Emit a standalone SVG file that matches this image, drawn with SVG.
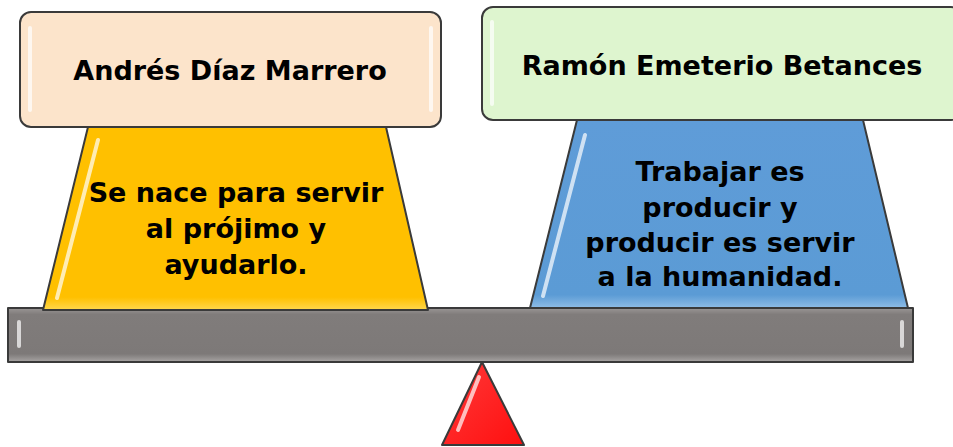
<svg xmlns="http://www.w3.org/2000/svg" width="953" height="447" viewBox="0 0 953 447">
<defs>
<style>
.edge{stroke:#3a3a3a;stroke-width:2;stroke-linejoin:round}
.t{font-family:"DejaVu Sans","Liberation Sans",sans-serif;font-weight:bold;fill:#000;text-anchor:middle}
.title{font-size:27px}
.body{font-size:27px}
.hl{fill:none;stroke:#fff;stroke-opacity:0.7;stroke-width:4;stroke-linecap:round}
</style>
<linearGradient id="gBeam" x1="0" y1="0" x2="0" y2="1">
<stop offset="0" stop-color="#9a9695"/><stop offset="0.12" stop-color="#807c7b"/><stop offset="0.85" stop-color="#7d7978"/><stop offset="1" stop-color="#a8a5a4"/>
</linearGradient>
<linearGradient id="gYel" x1="0" y1="0" x2="0" y2="1">
<stop offset="0" stop-color="#ffc000"/><stop offset="0.93" stop-color="#ffc000"/><stop offset="1" stop-color="#ffd84d"/>
</linearGradient>
<linearGradient id="gBlue" x1="0" y1="0" x2="0" y2="1">
<stop offset="0" stop-color="#5f9cd8"/><stop offset="0.93" stop-color="#5b9bd5"/><stop offset="1" stop-color="#8fbde6"/>
</linearGradient>
<linearGradient id="gRed" x1="0" y1="0" x2="1" y2="1">
<stop offset="0" stop-color="#ff3a3a"/><stop offset="1" stop-color="#ff0f0f"/>
</linearGradient>
</defs>

<g id="beam">
<rect x="8" y="308" width="905" height="54" fill="url(#gBeam)" class="edge"/>
<path d="M19 322 L19 346" class="hl"/>
<path d="M902 322 L902 346" class="hl"/>
</g>

<g id="fulcrum">
<polygon points="482,362 524,445 442,445" fill="url(#gRed)" class="edge"/>
<path d="M479 377 L458 430" class="hl"/>
</g>

<g id="left-base">
<polygon points="88,127 386,127 428,310 43,310" fill="url(#gYel)" class="edge"/>
<path d="M98 140 L57 298" class="hl" stroke-opacity="0.5"/>
<text class="t body" x="236" y="202">Se nace para servir</text>
<text class="t body" x="236" y="238">al prójimo y</text>
<text class="t body" x="236" y="274">ayudarlo.</text>
</g>

<g id="right-base">
<polygon points="577,120 863,120 908,308 530,308" fill="url(#gBlue)" class="edge"/>
<path d="M585 135 L543 296" class="hl" stroke-opacity="0.6"/>
<text class="t body" x="720" y="181">Trabajar es</text>
<text class="t body" x="720" y="217">producir y</text>
<text class="t body" x="720" y="252">producir es servir</text>
<text class="t body" x="720" y="286">a la humanidad.</text>
</g>

<g id="left-title">
<rect x="20" y="12" width="421" height="115" rx="11" fill="#fce4cb" class="edge"/>
<path d="M30 28 L30 110" class="hl"/>
<path d="M431 28 L431 110" class="hl"/>
<text class="t title" x="230" y="80">Andrés Díaz Marrero</text>
</g>

<g id="right-title">
<rect x="482" y="7" width="480" height="113" rx="11" fill="#def5cf" class="edge"/>
<path d="M492 22 L492 104" class="hl"/>
<text class="t title" x="722" y="75">Ramón Emeterio Betances</text>
</g>
</svg>
